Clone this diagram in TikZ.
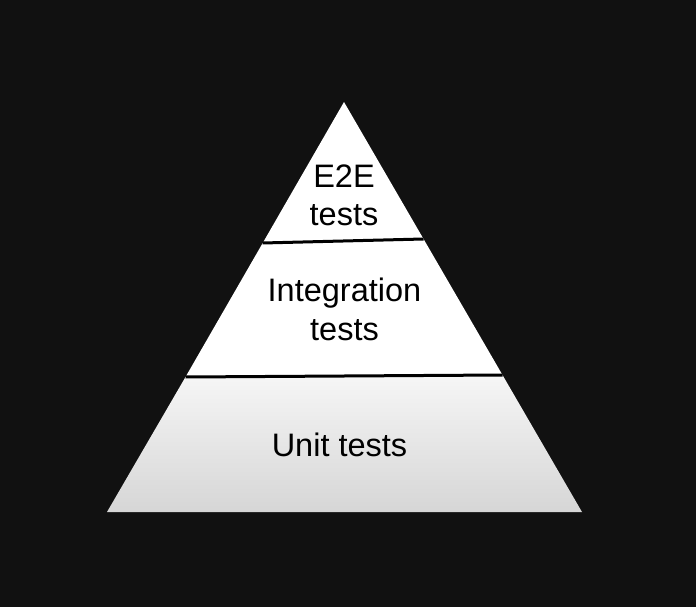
\documentclass[tikz,border=0pt]{standalone}
\usepackage{fontspec}
\setmainfont{Liberation Sans}
\begin{document}
\begin{tikzpicture}[x=1pt,y=-1pt,
  lbl/.style={font=\fontsize{32.5}{39}\selectfont, text=black, align=center, inner sep=0pt},
  sep/.style={draw=black, line width=3pt}]
\definecolor{bg}{HTML}{111111}
\definecolor{lowtop}{HTML}{F6F6F6}
\definecolor{lowbot}{HTML}{D6D6D6}
\fill[bg] (0,0) rectangle (696,607);
\useasboundingbox (0,0) rectangle (696,607);
\coordinate (apex) at (344,102);
\coordinate (a1) at (262.5,243);
\coordinate (b1) at (423.5,239);
\coordinate (a2) at (185.5,377);
\coordinate (b2) at (502.5,375);
\coordinate (bl) at (107,512);
\coordinate (br) at (582,512);
\fill[white] (apex) -- (b2) -- (a2) -- cycle;
\shade[top color=lowtop, bottom color=lowbot] (a2) -- (b2) -- (br) -- (bl) -- cycle;
\draw[sep] (a1) -- (b1);
\draw[sep] (a2) -- (b2);
\node[lbl, anchor=base] (e2e) at (344,187) {E2E};
\node[lbl, anchor=base] (e2et) at (344,225) {tests};
\node[lbl, anchor=base] (int) at (344.5,301) {Integration};
\node[lbl, anchor=base] (intt) at (344.5,340) {tests};
\node[lbl, anchor=base] (unit) at (339.5,456) {Unit tests};
\end{tikzpicture}
\end{document}
